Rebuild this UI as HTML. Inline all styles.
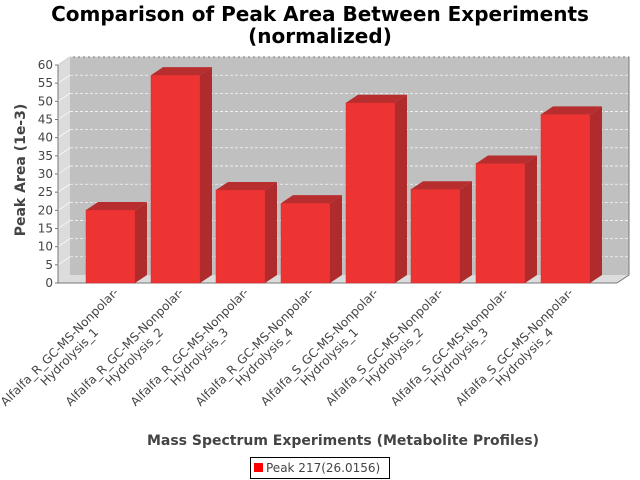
<!DOCTYPE html>
<html><head><meta charset="utf-8"><style>
body{margin:0;background:#fff}
svg{display:block;font-family:"DejaVu Sans","Liberation Sans",sans-serif}
</style></head><body>
<svg id="c" width="640" height="480" viewBox="0 0 640 480">
<text x="320" y="21" text-anchor="middle" font-size="20" font-weight="bold" fill="#000">Comparison of Peak Area Between Experiments</text>
<text x="320" y="43" text-anchor="middle" font-size="20" font-weight="bold" fill="#000">(normalized)</text>
<g id="plot"></g>
<text transform="translate(25,170) rotate(-90)" text-anchor="middle" font-size="14" font-weight="bold" fill="#444">Peak Area (1e-3)</text>
<text x="343" y="445" text-anchor="middle" font-size="14" font-weight="bold" fill="#444">Mass Spectrum Experiments (Metabolite Profiles)</text>
<g>
<rect x="250.5" y="457.5" width="139" height="21" fill="#fff" stroke="#000"/>
<rect x="254" y="463" width="9" height="9" fill="#f00"/>
<text x="266" y="472" font-size="12" fill="#444">Peak 217(26.0156)</text>
</g>
</svg>
<script>
const categories=["Alfalfa_R_GC-MS-Nonpolar-|Hydrolysis_1","Alfalfa_R_GC-MS-Nonpolar-|Hydrolysis_2","Alfalfa_R_GC-MS-Nonpolar-|Hydrolysis_3","Alfalfa_R_GC-MS-Nonpolar-|Hydrolysis_4","Alfalfa_S_GC-MS-Nonpolar-|Hydrolysis_1","Alfalfa_S_GC-MS-Nonpolar-|Hydrolysis_2","Alfalfa_S_GC-MS-Nonpolar-|Hydrolysis_3","Alfalfa_S_GC-MS-Nonpolar-|Hydrolysis_4"];
const values=[20.1,57.2,25.6,22.0,49.6,25.8,32.9,46.4];
const ticks=[0,5,10,15,20,25,30,35,40,45,50,55,60];
const NS="http://www.w3.org/2000/svg";
const g=document.getElementById('plot');
const X0=58,X1=617,Y0=283,YT=65,DX=12,DY=8,VMAX=60;
function y(v){return Y0-(v/VMAX)*(Y0-YT);}
function mk(t,a,p){const e=document.createElementNS(NS,t);for(const k in a)e.setAttribute(k,a[k]);(p||g).appendChild(e);return e;}
let w=mk('polygon',{points:`${X0},${Y0} ${X0+DX},${Y0-DY} ${X0+DX},${YT-DY} ${X0},${YT}`,fill:'#dcdcdc'});


w=mk('polygon',{points:`${X0},${Y0} ${X1},${Y0} ${X1+DX},${Y0-DY} ${X0+DX},${Y0-DY}`,fill:'#dcdcdc'});


w=mk('rect',{x:X0+DX,y:YT-DY,width:X1-X0,height:Y0-YT,fill:'#c0c0c0'});


mk('polyline',{points:`${X0},${YT} ${X0+DX},${YT-DY} ${X1+DX},${YT-DY} ${X1+DX},${Y0-DY} ${X1},${Y0}`,fill:'none',stroke:'#777'});
ticks.forEach(t=>{
  if(t>0){const l=mk('line',{x1:X0+DX,x2:X1+DX,y1:y(t)-DY,y2:y(t)-DY,stroke:'#fff','stroke-dasharray':'3,2','stroke-width':0.7});
  
  
  mk('line',{x1:X0,x2:X0+DX,y1:y(t),y2:y(t)-DY,stroke:'#fff','stroke-width':0.7});}
  mk('line',{x1:X0-3,x2:X0,y1:y(t),y2:y(t),stroke:'#777'});
  const tx=mk('text',{x:X0-5,y:y(t)+4,'text-anchor':'end','font-size':12,fill:'#444'});
  tx.textContent=t;
  
  
});
mk('line',{x1:X0,x2:X0,y1:YT,y2:Y0,stroke:'#777'});
mk('line',{x1:X0,x2:X1,y1:Y0,y2:Y0,stroke:'#777'});
const n=categories.length,step=65,bw=49,first=110.5;
categories.forEach((c,i)=>{
  const cx=first+step*i,bx=cx-bw/2,top=y(values[i]);
  const bg=mk('g',{});
  
  
  mk('rect',{x:bx,y:top,width:bw,height:Y0-top,fill:'#ee3333',stroke:'#d03030','stroke-width':0.5},bg);
  mk('polygon',{points:`${bx},${top} ${bx+DX},${top-DY} ${bx+bw+DX},${top-DY} ${bx+bw},${top}`,fill:'#b82e2e'},bg);
  mk('polygon',{points:`${bx+bw},${top} ${bx+bw+DX},${top-DY} ${bx+bw+DX},${Y0-DY} ${bx+bw},${Y0}`,fill:'#b02c2c'},bg);
  const lg=mk('g',{transform:`translate(${cx-46},352) rotate(-45)`,'font-size':12,fill:'#444','text-anchor':'middle'});
  
  
  c.split('|').forEach((s,j)=>{const t=mk('text',{x:0,y:-3+j*14},lg);t.textContent=s;});
});
</script>
</body></html>
